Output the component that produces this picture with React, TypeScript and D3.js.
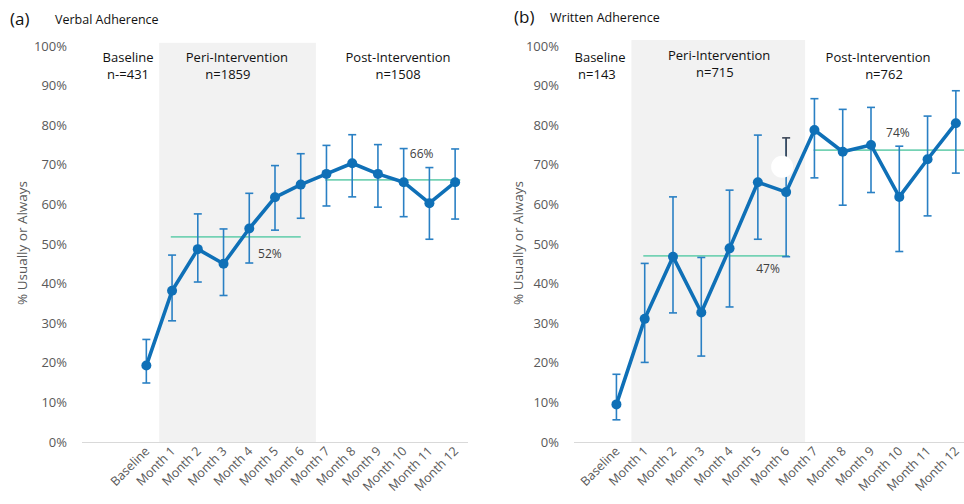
import React from "react";
import * as d3 from "d3";

const categories = ["Baseline", "Month 1", "Month 2", "Month 3", "Month 4", "Month 5", "Month 6", "Month 7", "Month 8", "Month 9", "Month 10", "Month 11", "Month 12"];
const yTicks = [0, 10, 20, 30, 40, 50, 60, 70, 80, 90, 100];

const verbalValues = [19.3, 38.2, 48.7, 45.0, 53.9, 61.8, 65.0, 67.7, 70.4, 67.7, 65.6, 60.3, 65.6];
const verbalLow = [14.9, 30.6, 40.4, 37.0, 45.2, 53.5, 56.5, 59.6, 61.9, 59.3, 56.9, 51.2, 56.3];
const verbalHigh = [25.9, 47.2, 57.6, 53.8, 62.8, 69.8, 72.8, 74.9, 77.6, 75.1, 74.1, 69.3, 74.0];
const verbalMeans = [
  { value: 51.8, from: 1.45, to: 6.5, label: "52%", lx: 5.3, ly: 47.5 },
  { value: 66.2, from: 7.45, to: 12.7, label: "66%", lx: 11.2, ly: 72.7 },
];
const verbalPhases = [
  { lines: ["Baseline", "n-=431"], xs: [-0.21, -0.21], y: 0 },
  { lines: ["Peri-Intervention", "n=1859"], xs: [4.02, 3.67], y: 0 },
  { lines: ["Post-Intervention", "n=1508"], xs: [10.28, 10.28], y: 0 },
];

const writtenValues = [9.5, 31.1, 46.8, 32.7, 48.9, 65.6, 63.1, 78.8, 73.3, 75.0, 61.9, 71.4, 80.5];
const writtenLow = [5.6, 20.1, 32.6, 21.7, 34.1, 51.2, 46.8, 66.7, 59.8, 63.0, 48.1, 57.1, 67.9];
const writtenHigh = [17.1, 45.1, 61.9, 46.6, 63.6, 77.5, 76.8, 86.7, 84.0, 84.5, 74.7, 82.3, 88.7];
const writtenMeans = [
  { value: 47.0, from: 1.45, to: 6.6, label: "47%", lx: 5.86, ly: 43.7 },
  { value: 73.7, from: 7.47, to: 13.8, label: "74%", lx: 10.45, ly: 78.1 },
];
const writtenPhases = [
  { lines: ["Baseline", "n=143"], xs: [-0.08, -0.19], y: 0 },
  { lines: ["Peri-Intervention", "n=715"], xs: [4.13, 3.98], y: -2 },
  { lines: ["Post-Intervention", "n=762"], xs: [9.75, 9.96], y: 0 },
];

const FONT = "'Open Sans', 'Liberation Sans', sans-serif";
const BLUE = "#0f70b7";
const ERR = "#2a80c4";
const TEAL = "#74d2b4";
const GREY = "#595959";

type Panel = {
  tag: string;
  title: string;
  titleX: number;
  tagX: number;
  titleY: number;
  x0: number;
  x1: number;
  lead: number;
  slots: number;
  shade: [number, number, number];
  values: number[];
  low: number[];
  high: number[];
  means: typeof verbalMeans;
  phases: typeof verbalPhases;
  tickRight: number;
  yTitleX: number;
  masked?: { index: number; value: number };
};

const panels: Panel[] = [
  {
    tag: "(a)", title: "Verbal Adherence", tagX: 10, titleX: 55, titleY: 24,
    x0: 82, x1: 468, lead: 2, slots: 15, shade: [1.0, 7.09, 100.8],
    values: verbalValues, low: verbalLow, high: verbalHigh, means: verbalMeans, phases: verbalPhases,
    tickRight: 67, yTitleX: 22,
  },
  {
    tag: "(b)", title: "Written Adherence", tagX: 514, titleX: 550, titleY: 22,
    x0: 574, x1: 970, lead: 1, slots: 14, shade: [1.03, 7.17, 101.5],
    values: writtenValues, low: writtenLow, high: writtenHigh, means: writtenMeans, phases: writtenPhases,
    tickRight: 559, yTitleX: 518,
    masked: { index: 6, value: 69.5 },
  },
];

function PanelView({ p }: { p: Panel }) {
  const y = d3.scaleLinear().domain([0, 100]).range([442, 46]);
  // position in slot units relative to the Baseline slot start
  const x = d3.scaleLinear().domain([-p.lead, p.slots - p.lead]).range([p.x0, p.x1]);
  const cx = (i: number) => x(i + 0.5);
  const line = d3.line<number>().x((_, i) => cx(i)).y((d) => y(d));
  const capW = 4;
  return (
    <g>
      <text x={p.tagX} y={p.titleY + 1} fontSize={17} fill="#111" fontFamily={FONT}>{p.tag}</text>
      <text x={p.titleX} y={p.titleY} fontSize={12.5} fill="#111" fontFamily={FONT}>{p.title}</text>
      <rect x={x(p.shade[0])} y={y(p.shade[2])} width={x(p.shade[1]) - x(p.shade[0])} height={y(0) - y(p.shade[2])} fill="#f2f2f2" />
      <line x1={p.x0} x2={p.x1} y1={y(0) + 0.5} y2={y(0) + 0.5} stroke="#d9d9d9" strokeWidth={1.2} />
      {yTicks.map((t) => (
        <text key={t} x={p.tickRight} y={y(t)} dy="0.35em" textAnchor="end" fontSize={13} fill={GREY} fontFamily={FONT}>{t}%</text>
      ))}
      <text transform={`translate(${p.yTitleX},243) rotate(-90)`} textAnchor="middle" dy="0.35em" fontSize={13.5} fill={GREY} fontFamily={FONT}>% Usually or Always</text>
      {categories.map((c, i) => (
        <text key={c} transform={`translate(${cx(i) + 4},${452}) rotate(-45)`} textAnchor="end" fontSize={12.5} fill={GREY} fontFamily={FONT}>{c}</text>
      ))}
      {p.phases.map((ph, k) => (
        <g key={k}>
          {ph.lines.map((ln, j) => (
            <text key={j} x={x(ph.xs[j])} y={62 + j * 17 + ph.y} textAnchor="middle" fontSize={13} fill="#111" fontFamily={FONT}>{ln}</text>
          ))}
        </g>
      ))}
      {p.means.map((m, k) => (
        <g key={k}>
          <line x1={x(m.from)} x2={x(m.to)} y1={y(m.value)} y2={y(m.value)} stroke={TEAL} strokeWidth={1.8} />
          <text x={x(m.lx)} y={y(m.ly)} dy="0.35em" textAnchor="middle" fontSize={12} fill="#404040" fontFamily={FONT}>{m.label}</text>
        </g>
      ))}
      {p.values.map((v, i) => {
        const isMasked = p.masked && p.masked.index === i;
        return (
          <g key={i}>
            <line x1={cx(i)} x2={cx(i)} y1={y(p.low[i])} y2={y(p.high[i])} stroke={ERR} strokeWidth={1.6} />
            <line x1={cx(i) - capW} x2={cx(i) + capW} y1={y(p.low[i])} y2={y(p.low[i])} stroke={ERR} strokeWidth={1.6} />
            {isMasked ? (
              <g>
                <line x1={cx(i)} x2={cx(i)} y1={y(p.high[i])} y2={y(p.masked!.value)} stroke="#3d4656" strokeWidth={1.6} />
                <line x1={cx(i) - capW} x2={cx(i) + capW} y1={y(p.high[i])} y2={y(p.high[i])} stroke="#3d4656" strokeWidth={1.6} />
                <circle cx={cx(i) - 4} cy={y(p.masked!.value)} r={11} fill="#ffffff" />
              </g>
            ) : (
              <line x1={cx(i) - capW} x2={cx(i) + capW} y1={y(p.high[i])} y2={y(p.high[i])} stroke={ERR} strokeWidth={1.6} />
            )}
          </g>
        );
      })}
      <path d={line(p.values) || ""} fill="none" stroke={BLUE} strokeWidth={3.6} strokeLinejoin="round" />
      {p.values.map((v, i) => (
        <circle key={i} cx={cx(i)} cy={y(v)} r={5} fill={BLUE} />
      ))}
    </g>
  );
}

export default function App() {
  return (
    <div style={{ position: "absolute", left: 0, top: 0 }}>
      <svg width={964} height={504} style={{ display: "block", background: "#fff" }}>
        {panels.map((p, k) => (
          <PanelView key={k} p={p} />
        ))}
      </svg>
    </div>
  );
}
